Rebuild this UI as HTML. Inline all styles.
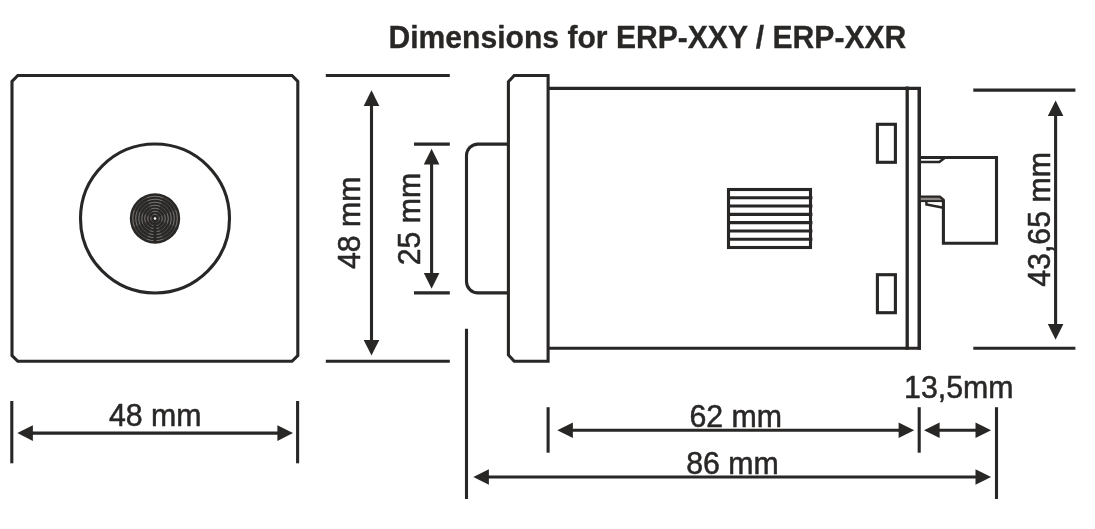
<!DOCTYPE html>
<html lang="en">
<head>
<meta charset="utf-8">
<title>Dimensions for ERP-XXY / ERP-XXR</title>
<style>
html,body{margin:0;padding:0;background:#fff;}
body{width:1095px;height:529px;overflow:hidden;}
svg{display:block;will-change:transform;}
.t{font-family:"Liberation Sans",Arial,Helvetica,sans-serif;font-size:30.3px;fill:#292726;stroke:#292726;stroke-width:0.5px;stroke-linejoin:round;}
.f{fill:#292726;stroke:none;}
</style>
</head>
<body>
<svg width="1095" height="529" viewBox="0 0 1095 529">
<g fill="none" stroke="#292726" stroke-width="3.1">
<text class="t" transform="translate(388.5,48.3) scale(1,1.03)" style="font-weight:bold;font-size:30.1px;stroke-width:0.3px">Dimensions for ERP-XXY / ERP-XXR</text>
<path d="M17.8,75.5 H292.0 L297.8,81.3 V355.5 L292.0,361.3 H17.8 L12,355.5 V81.3 Z"/>
<circle cx="155" cy="218.5" r="74.5"/>
<circle class="f" cx="155" cy="218.5" r="25.2"/>
<circle cx="155" cy="218.5" r="4.25" stroke="#6e6a67" stroke-width="0.5"/>
<circle cx="155" cy="218.5" r="4.25" stroke="#a29e9b" stroke-width="0.5" pathLength="360" stroke-dasharray="22 46 44 46 44 46 44 46 22"/>
<circle cx="155" cy="218.5" r="7.25" stroke="#6e6a67" stroke-width="0.5"/>
<circle cx="155" cy="218.5" r="7.25" stroke="#a29e9b" stroke-width="0.5" pathLength="360" stroke-dasharray="22 46 44 46 44 46 44 46 22"/>
<circle cx="155" cy="218.5" r="10.25" stroke="#6e6a67" stroke-width="0.5"/>
<circle cx="155" cy="218.5" r="10.25" stroke="#a29e9b" stroke-width="0.5" pathLength="360" stroke-dasharray="22 46 44 46 44 46 44 46 22"/>
<circle cx="155" cy="218.5" r="13.25" stroke="#6e6a67" stroke-width="0.5"/>
<circle cx="155" cy="218.5" r="13.25" stroke="#a29e9b" stroke-width="0.5" pathLength="360" stroke-dasharray="22 46 44 46 44 46 44 46 22"/>
<circle cx="155" cy="218.5" r="16.25" stroke="#6e6a67" stroke-width="0.5"/>
<circle cx="155" cy="218.5" r="16.25" stroke="#a29e9b" stroke-width="0.5" pathLength="360" stroke-dasharray="22 46 44 46 44 46 44 46 22"/>
<circle cx="155" cy="218.5" r="19.25" stroke="#6e6a67" stroke-width="0.5"/>
<circle cx="155" cy="218.5" r="19.25" stroke="#a29e9b" stroke-width="0.5" pathLength="360" stroke-dasharray="22 46 44 46 44 46 44 46 22"/>
<circle cx="155" cy="218.5" r="22.25" stroke="#6e6a67" stroke-width="0.5"/>
<circle cx="155" cy="218.5" r="22.25" stroke="#a29e9b" stroke-width="0.5" pathLength="360" stroke-dasharray="22 46 44 46 44 46 44 46 22"/>
<line x1="155" y1="218.5" x2="155" y2="242.5" stroke-width="3"/>
<circle cx="155" cy="218.5" r="1.25" fill="#fff" stroke="none"/>
<line x1="11.8" y1="401" x2="11.8" y2="463.3" stroke-width="3.1"/>
<line x1="297.6" y1="401" x2="297.6" y2="463.3" stroke-width="3.1"/>
<line x1="25" y1="433.1" x2="285" y2="433.1" stroke-width="3.1"/>
<polygon class="f" points="17.3,433.1 32.9,425.3 32.9,440.9"/>
<polygon class="f" points="293.0,433.1 277.4,425.3 277.4,440.9"/>
<text class="t" transform="translate(155.2,425.9) scale(1,1.02)" text-anchor="middle">48 mm</text>
<line x1="325.8" y1="75.5" x2="449.8" y2="75.5" stroke-width="3.1"/>
<line x1="325.8" y1="361.3" x2="449.8" y2="361.3" stroke-width="3.1"/>
<line x1="371.5" y1="98" x2="371.5" y2="348" stroke-width="3.1"/>
<polygon class="f" points="371.5,90.3 363.7,105.9 379.3,105.9"/>
<polygon class="f" points="371.5,355.5 363.7,339.9 379.3,339.9"/>
<text class="t" transform="translate(360.3,222.8) rotate(-90) scale(1,1.02)" text-anchor="middle">48 mm</text>
<line x1="414" y1="144.1" x2="449.8" y2="144.1" stroke-width="3.1"/>
<line x1="414" y1="292.9" x2="449.8" y2="292.9" stroke-width="3.1"/>
<line x1="431.6" y1="156" x2="431.6" y2="281" stroke-width="3.1"/>
<polygon class="f" points="431.6,148.8 423.8,164.4 439.4,164.4"/>
<polygon class="f" points="431.6,288.7 423.8,273.1 439.4,273.1"/>
<text class="t" transform="translate(420.2,219) rotate(-90) scale(1,1.02)" text-anchor="middle">25 mm</text>
<path d="M508.4,144.1 H478 A11.5,11.5 0 0 0 466.5,155.6 V281.4 A11.5,11.5 0 0 0 478,292.9 H508.4"/>
<path d="M514.2,75.5 H548.1 V361.3 H514.2 L508.4,355 V81.8 Z"/>
<path d="M548.1,88.4 H919.3 V348.2 H548.1"/>
<line x1="907.2" y1="86.6" x2="907.2" y2="349.8" stroke-width="3.3"/>
<line x1="919.3" y1="86.9" x2="919.3" y2="349.8" stroke-width="3.3"/>
<rect x="877.4" y="124.3" width="18" height="38"/>
<rect x="877.4" y="274.7" width="18" height="38"/>
<rect x="728.5" y="189.5" width="82" height="58"/>
<line x1="727" y1="197.79" x2="812.4" y2="197.79" stroke-width="3.1"/>
<line x1="727" y1="206.07" x2="812.4" y2="206.07" stroke-width="3.1"/>
<line x1="727" y1="214.36" x2="812.4" y2="214.36" stroke-width="3.1"/>
<line x1="727" y1="222.64" x2="812.4" y2="222.64" stroke-width="3.1"/>
<line x1="727" y1="230.93" x2="812.4" y2="230.93" stroke-width="3.1"/>
<line x1="727" y1="239.21" x2="812.4" y2="239.21" stroke-width="3.1"/>
<rect x="920.8" y="197" width="21.6" height="4" fill="#8a8785" stroke="none"/>
<path d="M919.3,157.5 H996.5 V243.2 H943.4 V199.6"/>
<path d="M919.3,196.6 H939.8 L944,200.2" stroke-width="2.4"/>
<path d="M919.3,162 H939.3 L945.2,157.5" stroke-width="2.6"/>
<path d="M919.3,201.1 H943.4" stroke-width="2"/>
<path d="M926.4,201 V204.5 L943.4,207.8" stroke-width="2.4"/>
<line x1="973.3" y1="90.1" x2="1075.4" y2="90.1" stroke-width="3.1"/>
<line x1="973.3" y1="348.3" x2="1075.4" y2="348.3" stroke-width="3.1"/>
<line x1="1055.6" y1="108" x2="1055.6" y2="332" stroke-width="3.1"/>
<polygon class="f" points="1055.6,100.4 1047.8,116.0 1063.4,116.0"/>
<polygon class="f" points="1055.6,339.7 1047.8,324.1 1063.4,324.1"/>
<text class="t" transform="translate(1050.4,219.4) rotate(-90) scale(1,1.02)" text-anchor="middle">43,65 mm</text>
<line x1="548.1" y1="407.2" x2="548.1" y2="452.7" stroke-width="3.1"/>
<line x1="919.2" y1="407.2" x2="919.2" y2="452.7" stroke-width="3.1"/>
<line x1="565" y1="430.3" x2="906" y2="430.3" stroke-width="3.1"/>
<polygon class="f" points="557.3,430.3 572.9,422.5 572.9,438.1"/>
<polygon class="f" points="914.2,430.3 898.6,422.5 898.6,438.1"/>
<text class="t" transform="translate(735.8,426.7) scale(1,1.02)" text-anchor="middle">62 mm</text>
<line x1="996.5" y1="407.2" x2="996.5" y2="499" stroke-width="3.1"/>
<line x1="932" y1="430.3" x2="983" y2="430.3" stroke-width="3.1"/>
<polygon class="f" points="924.0,430.3 939.6,422.5 939.6,438.1"/>
<polygon class="f" points="991.1,430.3 975.5,422.5 975.5,438.1"/>
<text class="t" transform="translate(958.8,397.8) scale(1,1.02)" text-anchor="middle">13,5mm</text>
<line x1="466.5" y1="328.8" x2="466.5" y2="499" stroke-width="3.1"/>
<line x1="481" y1="477" x2="983" y2="477" stroke-width="3.1"/>
<polygon class="f" points="473.3,477.0 488.9,469.2 488.9,484.8"/>
<polygon class="f" points="991.1,477.0 975.5,469.2 975.5,484.8"/>
<text class="t" transform="translate(732.5,474) scale(1,1.02)" text-anchor="middle">86 mm</text>
</g>
</svg>
</body>
</html>
